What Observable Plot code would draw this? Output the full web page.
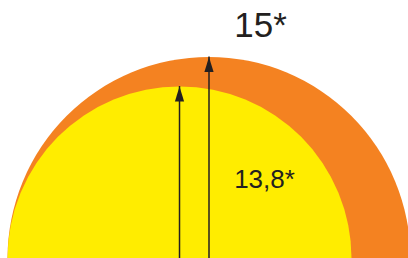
<!DOCTYPE html>
<html><head><meta charset="utf-8">
<script src="https://cdn.jsdelivr.net/npm/d3@7"></script>
<script src="https://cdn.jsdelivr.net/npm/@observablehq/plot@0.6"></script>
<style>html,body{margin:0;padding:0;background:#fff;overflow:hidden}#chart svg{display:block;overflow:hidden}</style>
</head><body><div id="chart"></div>
<script>
const series = ["outer", "inner"];
const values = [15, 13.8];
const labels = ["15*", "13,8*"];
const colors = ["#F48221", "#FFED00"];

const base = 6.8;
const data = series.map((s, i) => ({series: s, value: values[i], label: labels[i], color: colors[i]}));
const ink = "#231f20";
const head = {draw(ctx) { ctx.moveTo(0, 0); ctx.lineTo(-4.6, 15); ctx.lineTo(4.6, 15); ctx.closePath(); }};

const chart = Plot.plot({
  width: 408, height: 258, margin: 0,
  style: {background: "#fff", fontFamily: "'Liberation Sans', Arial, Helvetica, sans-serif"},
  x: {domain: [base, 15], range: [7, 208.5], axis: null},
  y: {domain: [base, 15], range: [258, 56.5], axis: null},
  r: {type: "linear", domain: [base, 15], range: [0, 201.5]},
  color: {type: "identity"},
  marks: [
    Plot.dot(data, {x: "value", y: () => base, r: "value", fill: "color", stroke: null, clip: true}),
    Plot.ruleX(data, {x: "value", y1: () => base, y2: "value", stroke: ink, strokeWidth: 1.5}),
    Plot.dot(data, {x: "value", y: "value", symbol: head, r: 5, fill: ink, stroke: null}),
    Plot.text(data.filter(d => d.series === "outer"), {x: "value", y: "value", text: "label", dx: 51.5, dy: -31.5, fontSize: 35, fill: ink, textAnchor: "middle"}),
    Plot.text(data.filter(d => d.series === "inner"), {x: "value", y: "value", text: "label", dx: 85, dy: 93.5, fontSize: 26, fill: ink, textAnchor: "middle"})
  ]
});
document.getElementById("chart").appendChild(chart);
</script>
</body></html>
